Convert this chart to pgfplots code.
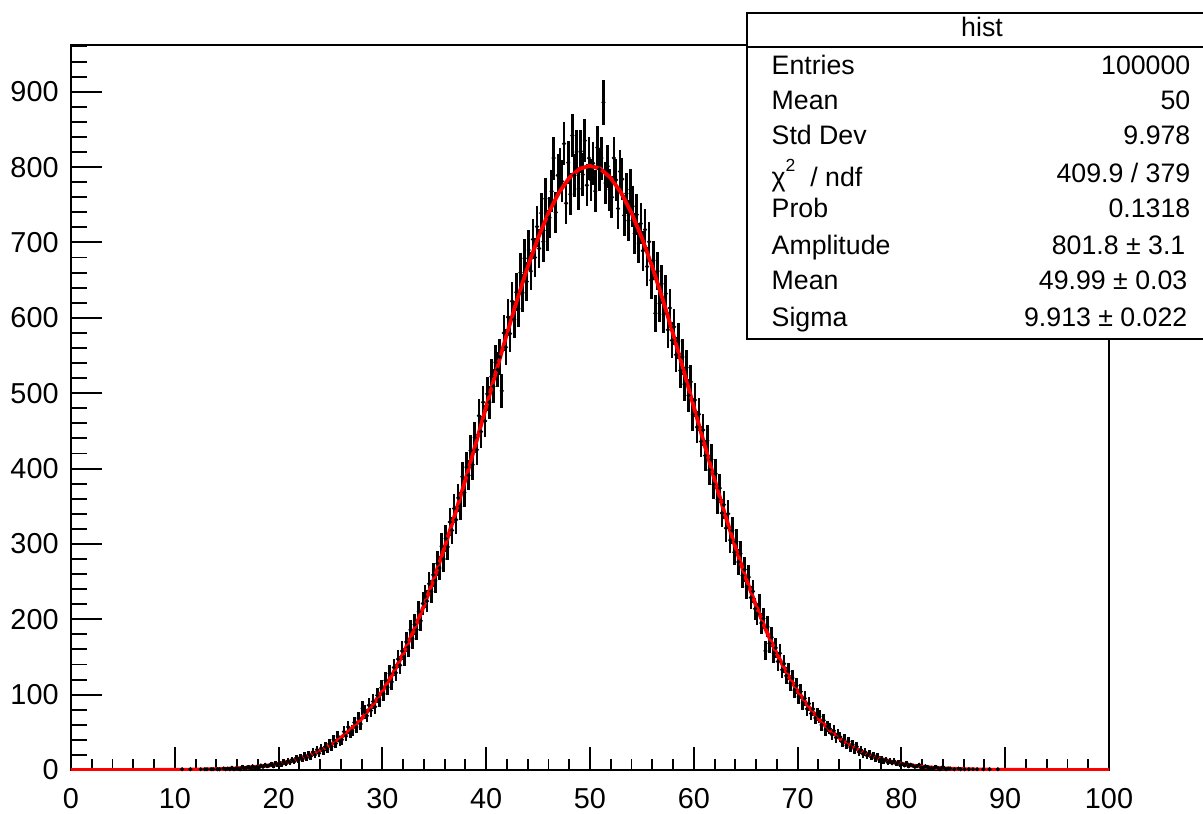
\documentclass[border=0pt]{standalone}
\usepackage{pgfplots}
\pgfplotsset{compat=1.18}
\usepackage{pgfplotstable}
\usepackage{fontspec}
\setmainfont{Liberation Sans}

% histogram: bin centre, content (bin width 0.2, empty bins left out)
\pgfplotstableread{
x y
10.7 1
11.5 1
12.5 1
12.9 1
13.1 1
13.5 1
13.7 1
14.1 1
14.3 1
14.7 2
14.9 1
15.1 2
15.3 1
15.5 3
15.7 1
15.9 2
16.1 2
16.3 1
16.5 4
16.7 2
16.9 3
17.1 4
17.3 2
17.5 5
17.7 3
17.9 4
18.1 3
18.3 6
18.5 4
18.7 7
18.9 5
19.1 6
19.3 8
19.5 5
19.7 9
19.9 7
20.1 9
20.3 7
20.5 11
20.7 8
20.9 12
21.1 10
21.3 14
21.5 11
21.7 16
21.9 13
22.1 17
22.3 14
22.5 19
22.7 16
22.9 21
23.1 18
23.3 24
23.5 20
23.7 27
23.9 22
24.1 29
24.3 25
24.5 31
24.7 28
24.9 35
25.1 31
25.3 40
25.5 35
25.7 45
25.9 38
26.1 40
26.3 51
26.5 45
26.7 57
26.9 49
27.1 52
27.3 63
27.5 57
27.7 69
27.9 61
28.1 82
28.3 77
28.5 72
28.7 86
28.9 79
29.1 91
29.3 84
29.5 99
29.7 93
29.9 109
30.1 101
30.3 119
30.5 110
30.7 128
30.9 117
31.1 136
31.3 129
31.5 147
31.7 139
31.9 158
32.1 150
32.3 170
32.5 163
32.7 186
32.9 174
33.1 193
33.3 186
33.5 210
33.7 198
33.9 221
34.1 230
34.3 224
34.5 247
34.7 237
34.9 259
35.1 251
35.3 274
35.5 268
35.7 297
35.9 280
36.1 307
36.3 296
36.5 329
36.7 318
36.9 347
37.1 332
37.3 361
37.5 350
37.7 389
37.9 368
38.1 402
38.3 391
38.5 424
38.7 405
38.9 441
39.1 425
39.3 470
39.5 449
39.7 488
39.9 463
40.1 499
40.3 488
40.5 522
40.7 509
40.9 541
41.1 531
41.3 548
41.5 503
41.7 580
41.9 561
42.1 601
42.3 579
42.5 622
42.7 598
42.9 634
43.1 612
43.3 660
43.5 633
43.7 679
43.9 648
44.1 690
44.3 662
44.5 704
44.7 680
44.9 721
45.1 692
45.3 739
45.5 701
45.7 758
45.9 716
46.1 733
46.3 768
46.5 812
46.7 740
46.9 789
47.1 797
47.3 781
47.5 831
47.7 752
47.9 806
48.1 764
48.3 842
48.5 789
48.7 820
48.9 771
49.1 821
49.3 790
49.5 835
49.7 776
49.9 812
50.1 783
50.3 805
50.5 768
50.7 826
50.9 797
51.1 812
51.3 886
51.5 779
51.7 801
51.9 770
52.1 760
52.3 812
52.5 783
52.7 745
52.9 794
53.1 784
53.3 736
53.5 765
53.7 729
53.9 770
54.1 748
54.3 712
54.5 737
54.7 699
54.9 725
55.1 689
55.3 717
55.5 668
55.7 701
55.9 650
56.1 676
56.3 606
56.5 662
56.7 619
56.9 645
57.1 605
57.3 632
57.5 584
57.7 613
57.9 570
58.1 588
58.3 551
58.5 569
58.7 530
58.9 548
59.1 512
59.3 534
59.5 497
59.7 515
59.9 472
60.1 491
60.3 455
60.5 472
60.7 436
60.9 451
61.1 417
61.3 437
61.5 398
61.7 412
61.9 379
62.1 393
62.3 359
62.5 374
62.7 341
62.9 352
63.1 321
63.3 340
63.5 305
63.7 318
63.9 289
64.1 303
64.3 276
64.5 287
64.7 258
64.9 266
65.1 243
65.3 256
65.5 229
65.7 237
65.9 214
66.1 207
66.3 219
66.5 195
66.7 201
66.9 158
67.1 190
67.3 168
67.5 176
67.7 155
67.9 162
68.1 144
68.3 155
68.5 133
68.7 141
68.9 125
69.1 131
69.3 115
69.5 122
69.7 106
69.9 112
70.1 97
70.3 104
70.5 89
70.7 95
70.9 81
71.1 88
71.3 75
71.5 81
71.7 69
71.9 74
72.1 71
72.3 60
72.5 66
72.7 53
72.9 58
73.1 55
73.3 47
73.5 52
73.7 43
73.9 48
74.1 44
74.3 37
74.5 41
74.7 33
74.9 38
75.1 30
75.3 34
75.5 27
75.7 31
75.9 24
76.1 27
76.3 21
76.5 24
76.7 19
76.9 22
77.1 17
77.3 20
77.5 15
77.7 18
77.9 13
78.1 15
78.3 12
78.5 14
78.7 10
78.9 12
79.1 9
79.3 12
79.5 8
79.7 10
79.9 6
80.1 8
80.3 6
80.5 9
80.7 5
80.9 7
81.1 6
81.3 4
81.5 5
81.7 7
81.9 3
82.1 3
82.3 5
82.5 4
82.7 2
82.9 3
83.1 2
83.3 4
83.5 3
83.7 1
83.9 3
84.1 3
84.3 1
84.5 2
84.7 2
85.1 1
85.5 2
85.7 1
86.1 1
86.5 1
86.9 1
87.3 1
87.9 1
88.5 1
89.3 1
}\histdata

% fitted gaussian, sampled every unit
\pgfplotstableread{
x y
0 0
1 0
2 0.01
3 0.01
4 0.02
5 0.03
6 0.04
7 0.07
8 0.10
9 0.15
10 0.23
11 0.35
12 0.52
13 0.76
14 1.1
15 1.6
16 2.2
17 3.1
18 4.4
19 6.0
20 8.2
21 11.1
22 14.8
23 19.6
24 25.7
25 33.3
26 42.8
27 54.3
28 68.3
29 85.0
30 104.7
31 127.7
32 154.2
33 184.2
34 218.0
35 255.2
36 295.8
37 339.3
38 385.3
39 433.2
40 482.0
41 531.0
42 578.9
43 624.9
44 667.6
45 706.0
46 739.1
47 765.9
48 785.6
49 797.7
50 801.8
51 797.7
52 785.6
53 765.9
54 739.1
55 706.0
56 667.6
57 624.9
58 578.9
59 531.0
60 482.0
61 433.2
62 385.3
63 339.3
64 295.8
65 255.2
66 218.0
67 184.2
68 154.2
69 127.7
70 104.7
71 85.0
72 68.3
73 54.3
74 42.8
75 33.3
76 25.7
77 19.6
78 14.8
79 11.1
80 8.2
81 6.0
82 4.4
83 3.1
84 2.2
85 1.6
86 1.1
87 0.76
88 0.52
89 0.35
90 0.23
91 0.15
92 0.10
93 0.07
94 0.04
95 0.03
96 0.02
97 0.01
98 0.01
99 0
100 0
}\fitdata

\begin{document}
\begin{tikzpicture}
\useasboundingbox (0,0) rectangle (120.3mm,81.3mm);

\begin{axis}[
  at={(7.1mm,4.3mm)}, anchor=south west,
  scale only axis, width=103.8mm, height=72.5mm,
  xmin=0, xmax=100, ymin=0, ymax=962,
  axis line style={line width=0.55pt},
  tick align=inside, xtick pos=bottom, ytick pos=left,
  xtick={0,10,...,100}, ytick={0,100,...,900},
  minor xtick={2,4,...,98}, minor ytick={20,40,...,960},
  xtick style={black, line width=0.55pt, /pgfplots/major tick length=2.3mm},
  minor x tick style={black, line width=0.55pt, /pgfplots/minor tick length=1.15mm},
  ytick style={black, line width=0.55pt, /pgfplots/major tick length=3.1mm},
  minor y tick style={black, line width=0.55pt, /pgfplots/minor tick length=1.65mm},
  tick label style={font=\fontsize{8.2}{9}\selectfont},
  xticklabel style={yshift=-0.55mm},
  /pgf/number format/assume math mode=true,
]
  \addplot[black, only marks, mark=*, mark size=0.35pt,
    error bars/.cd, x dir=both, x fixed=0.1, y dir=both, y explicit,
    error mark=none, error bar style={line width=0.75pt}]
    table[x=x, y=y, y error expr={sqrt(\thisrow{y})}] {\histdata};
  \addplot[red, line width=1.1pt, mark=none] table[x=x, y=y] {\fitdata};
\end{axis}

\begin{scope}[x=0.1mm, y=0.1mm]
\node[anchor=base, inner sep=0, font=\fontsize{12.2}{14}\selectfont] at (587,814.2) {Gaussian Distribution};
% stats box
\fill[white] (747,800) rectangle (1203,474);
\draw[line width=0.55pt] (1203,800) -- (747,800) -- (747,474) -- (1203,474);
\draw[line width=0.55pt] (747,766) -- (1203,766);
\begin{scope}[font=\fontsize{7.6}{8}\selectfont, every node/.style={inner sep=0}]
  \node[anchor=base] at (982,776) {hist};
  \node[anchor=base west] at (771,738) {Entries};
  \node[anchor=base east] at (1191,738) {100000};
  \node[anchor=base west] at (771,703) {Mean};
  \node[anchor=base east] at (1191,703) {50};
  \node[anchor=base west] at (771,668) {Std Dev};
  \node[anchor=base east] at (1191,668) {9.978};
  \node[anchor=base west] at (771,626) {χ\raisebox{1.1ex}{\fontsize{5}{6}\selectfont 2}\ \ / ndf};
  \node[anchor=base east] at (1191,630) {409.9 / 379};
  \node[anchor=base west] at (771,595) {Prob};
  \node[anchor=base east] at (1191,595) {0.1318};
  \node[anchor=base west] at (771,558) {Amplitude};
  \node[anchor=base east] at (1186,558) {801.8 ± 3.1};
  \node[anchor=base west] at (771,523) {Mean};
  \node[anchor=base east] at (1188,523) {49.99 ± 0.03};
  \node[anchor=base west] at (771,486) {Sigma};
  \node[anchor=base east] at (1188,486) {9.913 ± 0.022};
\end{scope}
\end{scope}
\end{tikzpicture}
\end{document}
